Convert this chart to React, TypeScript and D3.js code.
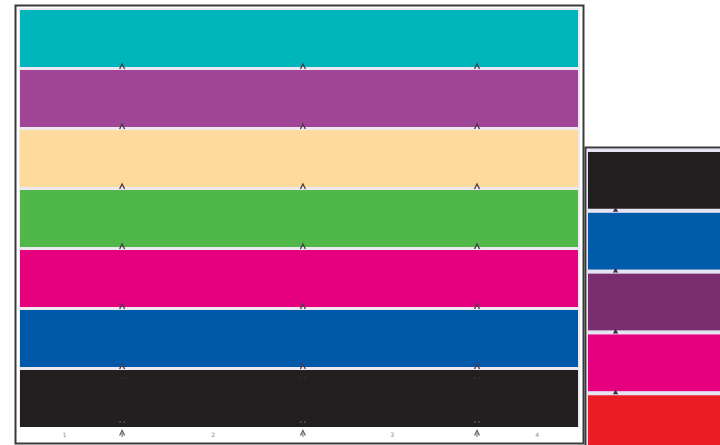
import React from "react";
import * as d3 from "d3";

// Left colour bar (top to bottom)
const leftBands = ["cyan", "purple", "peach", "green", "magenta", "blue", "black"];
const leftColors = ["#00B6BC", "#A14596", "#FDDB9C", "#50B848", "#E5007D", "#0058A9", "#231F20"];
// Right colour bar (top to bottom)
const rightBands = ["black", "blue", "violet", "magenta", "red"];
const rightColors = ["#231F20", "#005BAA", "#7A2D6F", "#E6007E", "#EC1C24"];
// Tick labels along the bottom and their positions (0-100 along the strip)
const tickLabels = ["1", "2", "3", "4"];
const tickPositions = [8, 34.6, 66.7, 92.7];
// Register-mark positions (0-100 along the strip)
const markPositions = [18.3, 50.7, 81.9];
const rightMarkPositions = [4.5];

const W = 720;
const H = 445;

export default function App() {
  // left panel
  const lx = d3.scaleLinear().domain([0, 100]).range([20, 578]);
  const ly = d3.scaleBand<string>().domain(leftBands).range([10, 427]).paddingInner(0.05).paddingOuter(0);
  // right panel
  const rx = d3.scaleLinear().domain([0, 100]).range([588, 1200]);
  const ry = d3.scaleBand<string>().domain(rightBands).range([152, 452]).paddingInner(0.067).paddingOuter(0);

  const step = ly.step();
  const leftBoundaries = leftBands.slice(0, -1).map((b) => (ly(b) as number) + ly.bandwidth() + (step - ly.bandwidth()) / 2);
  const rStep = ry.step();
  const rightBoundaries = rightBands.slice(0, -1).map((b) => (ry(b) as number) + ry.bandwidth() + (rStep - ry.bandwidth()) / 2);
  const lastBand = leftBands[leftBands.length - 1];
  const blackTop = ly(lastBand) as number;
  const blackBottom = blackTop + ly.bandwidth();

  const chevron = (s: number) => `M${-s},${s} L0,${-s} L${s},${s}`;

  return (
    <svg width={W} height={H} style={{ position: "absolute", left: 0, top: 0, background: "#fff" }}>
      {/* left panel background (separators) */}
      <rect x={19} y={8} width={561} height={424} fill="#EEE8F0" />
      {leftBands.map((b, i) => (
        <rect key={b} x={lx(0)} y={ly(b)} width={lx(100) - lx(0)} height={ly.bandwidth()} fill={leftColors[i]} />
      ))}
      <rect x={19} y={blackBottom} width={561} height={443 - blackBottom} fill="#fff" />
      {/* left frame */}
      <rect x={15.5} y={5.5} width={568} height={438} fill="none" stroke="#3a3a3a" strokeWidth={2} />

      {/* right panel */}
      <rect x={587} y={149} width={140} height={300} fill="#E6E4F2" />
      {rightBands.map((b, i) => (
        <rect key={b} x={rx(0)} y={ry(b)} width={rx(100) - rx(0)} height={ry.bandwidth()} fill={rightColors[i]} />
      ))}
      <path d="M585.5,446 L585.5,147.5 L722,147.5" fill="none" stroke="#3a3a3a" strokeWidth={2} />

      {/* register marks on left boundaries */}
      {markPositions.map((m) => (
        <g key={m}>
          {leftBoundaries.map((y) => (
            <path key={y} d={chevron(2.5)} transform={`translate(${lx(m)},${y - 2})`} fill="none" stroke="#4a3d4a" strokeWidth={1.3} />
          ))}
          <path d={chevron(2.5)} transform={`translate(${lx(m)},${blackBottom + 6})`} fill="none" stroke="#666" strokeWidth={1.3} />
          <line x1={lx(m)} x2={lx(m)} y1={blackBottom + 6} y2={blackBottom + 10} stroke="#666" strokeWidth={1} />
          <circle cx={lx(m) - 2} cy={blackBottom - 5} r={0.9} fill="#555" />
          <circle cx={lx(m) + 2} cy={blackBottom - 5} r={0.9} fill="#555" />
          <circle cx={lx(m) - 2} cy={blackTop + 8} r={0.8} fill="#3a3a3a" />
          <circle cx={lx(m) + 2} cy={blackTop + 8} r={0.8} fill="#3a3a3a" />
        </g>
      ))}
      {/* register marks on right boundaries */}
      {rightMarkPositions.map((m) => (
        <g key={m}>
          {rightBoundaries.map((y) => (
            <path key={y} d={chevron(2)} transform={`translate(${rx(m)},${y - 1})`} fill="#3a2a40" stroke="#3a2a40" strokeWidth={1} />
          ))}
        </g>
      ))}

      {/* tick labels */}
      {tickLabels.map((t, i) => (
        <text key={t} x={lx(tickPositions[i])} y={437} fontSize={6} fill="#888" textAnchor="middle" fontFamily="DejaVu Sans">
          {t}
        </text>
      ))}
    </svg>
  );
}
